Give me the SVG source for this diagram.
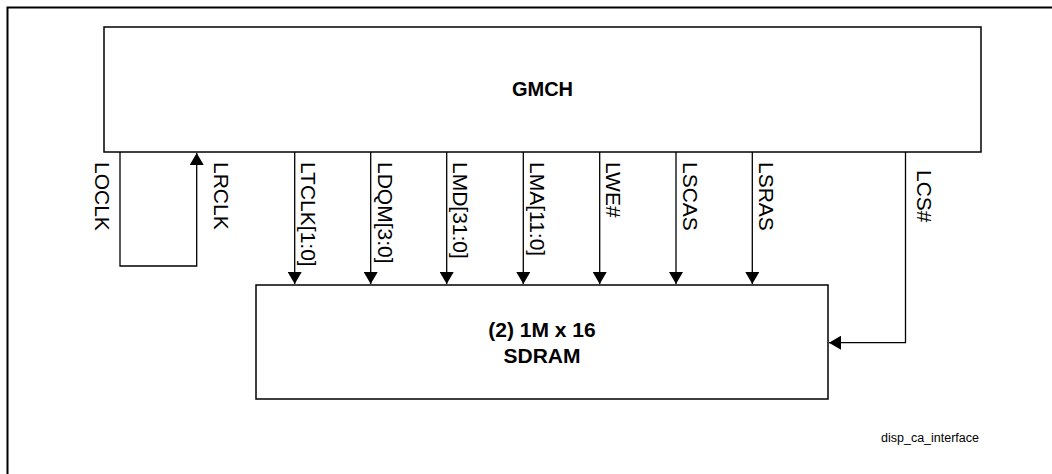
<svg xmlns="http://www.w3.org/2000/svg" width="1052" height="474" viewBox="0 0 1052 474">
<style>
.box{fill:#fff;stroke:#000;stroke-width:1.5}
.frame{fill:none;stroke:#000;stroke-width:2}
.wire{fill:none;stroke:#000;stroke-width:1.3}
.title{font-family:"Liberation Sans",Arial,sans-serif;font-weight:bold;font-size:20px;text-anchor:middle;fill:#000}
.sd{font-family:"Liberation Sans",Arial,sans-serif;font-weight:bold;font-size:21px;text-anchor:middle;fill:#000}
.lbl{font-family:"Liberation Sans",Arial,sans-serif;font-size:21px;fill:#000}
.cap{font-family:"Liberation Sans",Arial,sans-serif;font-size:12.5px;fill:#000}
</style>
<defs>
<marker id="ah" markerUnits="userSpaceOnUse" markerWidth="14" markerHeight="14" viewBox="0 0 12 14" refX="12" refY="7" orient="auto">
<path d="M0,0 L12,7 L0,14 Z" fill="#000"/>
</marker>
</defs>
<rect width="1052" height="474" fill="#fff"/>
<path class="frame" d="M7.5,480 V7.5 H1060"/>
<g id="gmch">
<rect class="box" x="104" y="27" width="877" height="125"/>
<text class="title" x="542.5" y="96">GMCH</text>
</g>
<g id="sdram">
<rect class="box" x="256" y="285" width="572" height="114"/>
<text class="sd" x="542" y="337">(2) 1M x 16</text>
<text class="sd" x="542" y="363">SDRAM</text>
</g>
<g id="connectors">
<path class="wire" d="M120,152 V266 H196.7 V153" marker-end="url(#ah)"/>
<path class="wire" d="M294.7,152 V284" marker-end="url(#ah)"/>
<path class="wire" d="M370.7,152 V284" marker-end="url(#ah)"/>
<path class="wire" d="M446.7,152 V284" marker-end="url(#ah)"/>
<path class="wire" d="M523.3,152 V284" marker-end="url(#ah)"/>
<path class="wire" d="M599.7,152 V284" marker-end="url(#ah)"/>
<path class="wire" d="M676,152 V284" marker-end="url(#ah)"/>
<path class="wire" d="M752.3,152 V284" marker-end="url(#ah)"/>
<path class="wire" d="M905.5,152 V342.7 H829" marker-end="url(#ah)"/>
</g>
<g id="labels">
<text class="lbl" transform="translate(94.5,162) rotate(90)">LOCLK</text>
<text class="lbl" transform="translate(213.5,162) rotate(90)">LRCLK</text>
<text class="lbl" transform="translate(301,162) rotate(90)">LTCLK[1:0]</text>
<text class="lbl" transform="translate(377.5,162) rotate(90)">LDQM[3:0]</text>
<text class="lbl" transform="translate(453,162) rotate(90)">LMD[31:0]</text>
<text class="lbl" transform="translate(529.5,162) rotate(90)">LMA[11:0]</text>
<text class="lbl" transform="translate(606,162) rotate(90)">LWE#</text>
<text class="lbl" transform="translate(682.5,162) rotate(90)">LSCAS</text>
<text class="lbl" transform="translate(759,162) rotate(90)">LSRAS</text>
<text class="lbl" transform="translate(916.5,170) rotate(90)">LCS#</text>
</g>
<text class="cap" x="881" y="442">disp_ca_interface</text>
</svg>
